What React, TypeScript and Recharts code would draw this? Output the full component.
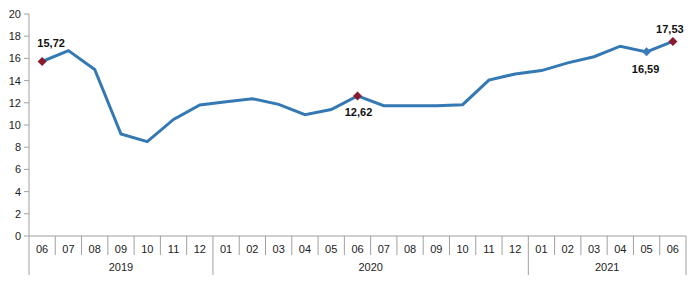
import React from 'react';
import { LineChart, Line, XAxis, YAxis } from 'recharts';

const months = ['06','07','08','09','10','11','12','01','02','03','04','05','06','07','08','09','10','11','12','01','02','03','04','05','06'];
const values = [15.72,16.7,15.0,9.19,8.5,10.5,11.8,12.1,12.37,11.86,10.93,11.4,12.62,11.74,11.74,11.74,11.83,14.05,14.6,14.9,15.6,16.15,17.1,16.59,17.53];
const years = ['2019','2020','2021'];
const yearCounts = [7,12,6];
const yTicks = [0,2,4,6,8,10,12,14,16,18,20];
const labelled = [0,12,23,24];

const data = months.map((m, i) => ({ key: i, month: m, value: values[i] }));

const LINE = '#3478B4';
const RED = '#8B1A2E';
const GRID = '#A0A0A0';
const FONT = 'Liberation Sans, Arial, sans-serif';
const HALF = 657 / 25 / 2;

const yearStarts: number[] = [];
{
  let s = 0;
  yearCounts.forEach(c => { yearStarts.push(s); s += c; });
}

const MonthTick = (props: any) => {
  const { x, y, payload, index } = props;
  const i = index ?? payload.index;
  const top = y - 8;
  const isYearStart = yearStarts.includes(i);
  const els: any[] = [];
  els.push(<line key="l" x1={x - HALF} x2={x - HALF} y1={top} y2={top + (isYearStart ? 39 : 19)} stroke={GRID} strokeWidth={1} />);
  if (i === months.length - 1) {
    els.push(<line key="r" x1={x + HALF} x2={x + HALF} y1={top} y2={top + 39} stroke={GRID} strokeWidth={1} />);
  }
  els.push(<text key="t" x={x} y={top + 17} textAnchor="middle" fontSize={11} fontFamily={FONT} fill="#222">{months[i]}</text>);
  yearStarts.forEach((s, yi) => {
    const c = yearCounts[yi];
    const mid = s + (c - 1) / 2;
    if (Math.floor(mid) === i) {
      const xc = x + (mid - i) * HALF * 2;
      els.push(<text key={'y' + yi} x={xc} y={top + 35} textAnchor="middle" fontSize={11} fontFamily={FONT} fill="#222">{years[yi]}</text>);
    }
  });
  return <g>{els}</g>;
};

const Dot = (props: any) => {
  const { cx, cy, index } = props;
  if (!labelled.includes(index)) return <g key={index} />;
  const color = index === 23 ? '#3C7CB8' : RED;
  const r = 4.5;
  return <path key={index} d={`M${cx},${cy - r}L${cx + r},${cy}L${cx},${cy + r}L${cx - r},${cy}Z`} fill={color} />;
};

const labelOffsets: Record<number, [number, number]> = {
  0: [9, -15],
  12: [1, 20],
  23: [-1, 21],
  24: [-3, -8],
};

const Label = (props: any) => {
  const { x, y, index, value } = props;
  if (!labelled.includes(index)) return null;
  const [dx, dy] = labelOffsets[index];
  return (
    <text x={x + dx} y={y + dy} textAnchor="middle" fontSize={11} fontWeight="bold" fontFamily={FONT} fill="#111">
      {value.toFixed(2).replace('.', ',')}
    </text>
  );
};

export default function App() {
  return (
    <div style={{ position: 'absolute', left: 0, top: 0, background: '#fff' }}>
      <LineChart width={700} height={281} data={data} margin={{ top: 14, right: 14, left: 0, bottom: 0 }}>
        <XAxis
          dataKey="key"
          type="category"
          padding={{ left: HALF, right: HALF }}
          interval={0}
          tickLine={false}
          axisLine={{ stroke: GRID }}
          tick={<MonthTick />}
          height={45}
        />
        <YAxis
          domain={[0, 20]}
          ticks={yTicks}
          width={29}
          tickSize={5}
          tickMargin={3}
          interval={0}
          axisLine={{ stroke: GRID }}
          tickLine={{ stroke: GRID }}
          tick={{ fontSize: 11, fontFamily: FONT, fill: '#222' }}
        />
        <Line
          dataKey="value"
          stroke={LINE}
          strokeWidth={3}
          dot={<Dot />}
          activeDot={false}
          label={<Label />}
          isAnimationActive={false}
        />
      </LineChart>
    </div>
  );
}
